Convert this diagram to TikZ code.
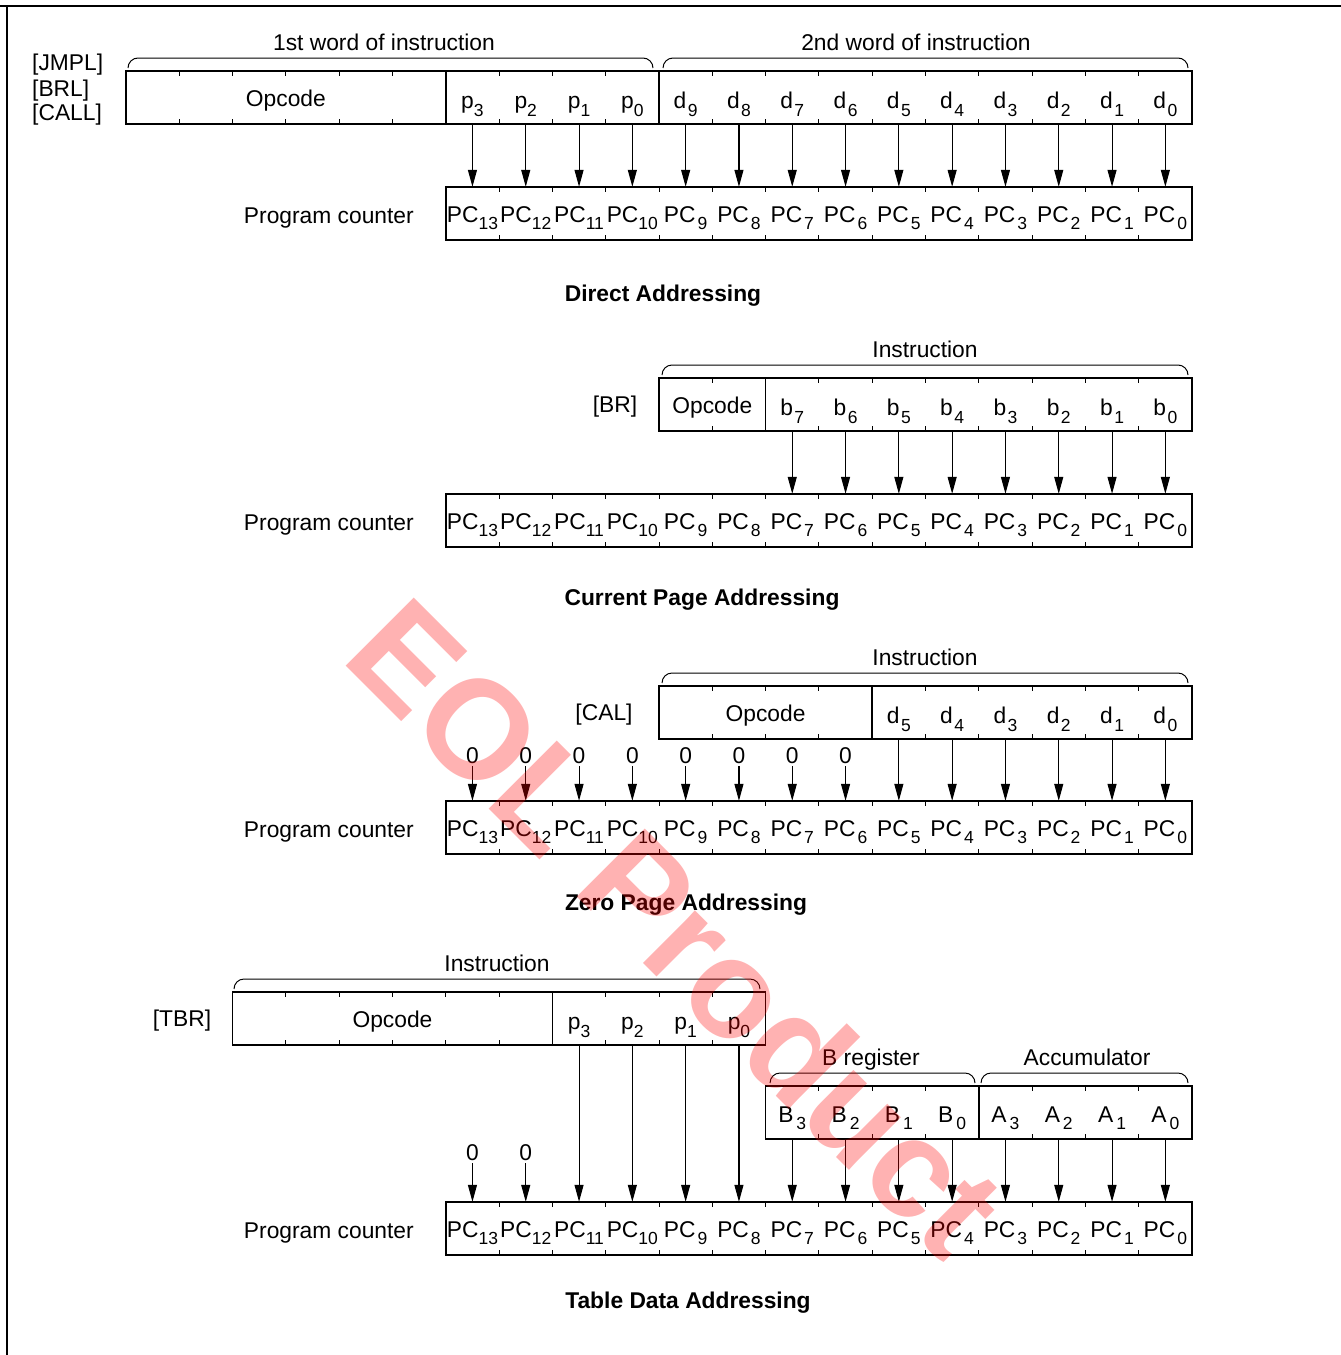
\documentclass[tikz,border=0pt]{standalone}
\usepackage{fontspec}
\setmainfont{Liberation Sans}
\usetikzlibrary{arrows.meta, positioning}
\newcommand{\idx}[1]{\raisebox{-7.5pt}{\fontsize{17.5}{17.5}\selectfont #1}}

\begin{document}
\begin{tikzpicture}[x=1pt, y=-1pt, font=\fontsize{22.8}{27}\selectfont,
    >={Triangle[length=17pt, width=9pt]},
    reg/.style={line width=1.5pt},
    tck/.style={line width=1pt},
    brc/.style={line width=1pt, rounded corners=10pt},
    arr/.style={->, line width=1.1pt},
    cell/.style={minimum width=53.3pt, minimum height=53pt, inner sep=0pt, text height=19pt, text depth=0pt},
    pcc/.style={cell, text height=17pt},
    bit/.style={cell, text height=22pt},
    opc/.style={cell, text height=17pt, minimum width=#1},
    zero/.style={inner sep=2pt},
    lbl/.style={anchor=base, inner sep=0pt},
    ttl/.style={anchor=base, inner sep=0pt, font=\fontsize{22.8}{27}\selectfont\bfseries},
    wmark/.style={rotate=-45, text=red, text opacity=0.3, font=\fontsize{140}{140}\selectfont\bfseries}]
    \useasboundingbox (0,0) rectangle (1341,1355);
    \draw[reg] (0,6) -- (1341,6) (7,6) -- (7,1355);

    \foreach \cl/\cr/\ty in {0/20/71, 6/20/187, 10/20/378, 6/20/494, 10/20/686, 6/20/801, 2/12/992, 12/20/1086, 6/20/1202}{
        \draw[reg] ({126+\cl*53.3},\ty) rectangle ({126+\cr*53.3},{\ty+53});
        \foreach \k in {\cl,...,\cr}
            \draw[tck] ({126+\k*53.3},\ty) -- ++(0,5) ({126+\k*53.3},{\ty+53}) -- ++(0,-5);
    }
    \foreach \cc/\ty in {6/71, 10/71, 12/378, 14/686, 8/992, 16/1086}
        \draw[reg] ({126+\cc*53.3},\ty) -- ++(0,53);
    \foreach \bl/\br/\ty in {128/653/71, 663/1188/71, 662/1188/378, 662/1188/686, 234/760/992, 770/975/1086, 981/1188/1086}
        \draw[brc] (\bl,{\ty-3}) -- (\bl,{\ty-13}) -- (\br,{\ty-13}) -- (\br,{\ty-3});

    \node[lbl] (w1) at (384,50) {1st word of instruction};
    \node[lbl] (w2) at (916,50) {2nd word of instruction};
    \node[lbl] (ib) at (925,357) {Instruction};
    \node[lbl] (ic) at (925,665) {Instruction};
    \node[lbl] (id) at (497,971) {Instruction};
    \node[lbl] (breg) at (871,1065) {B register};
    \node[lbl] (acc) at (1087,1065) {Accumulator};

    \node[lbl, anchor=base west] (jmpl) at (32,70) {[JMPL]};
    \node[lbl, anchor=base west] (brl) at (32,96) {[BRL]};
    \node[lbl, anchor=base west] (call) at (32,120) {[CALL]};
    \node[lbl] (br) at (615,412) {[BR]};
    \node[lbl] (cal) at (604,720) {[CAL]};
    \node[lbl] (tbr) at (182,1026) {[TBR]};

    \node[ttl] (t1) at (663,301) {Direct Addressing};
    \node[ttl] (t2) at (702,605) {Current Page Addressing};
    \node[ttl] (t3) at (686,910) {Zero Page Addressing};
    \node[ttl] (t4) at (688,1308) {Table Data Addressing};

    \foreach \s/\ty in {a/187, b/494, c/801, d/1202}{
        \foreach \i in {0,...,13}
            \node[pcc] (\s-pc\i) at ({126+(19-\i+0.5)*53.3},{\ty+26.5}) {PC\ifnum\i<10\kern2pt\fi\idx{\i}};
        \node[lbl, anchor=base east] (\s-prog) at (414,{\ty+36}) {Program counter};
    }

    \node[opc=319.8pt] (a-op) at ({126+3*53.3},97.5) {Opcode};
    \foreach \i [evaluate=\i as \j using int(10+\i)] in {0,...,3}{
        \node[bit] (a-p\i) at ({126+(9-\i+0.5)*53.3},97.5) {p\idx{\i}};
        \draw[arr] (a-p\i.south) -- (a-pc\j.north);
    }
    \foreach \i in {0,...,9}{
        \node[bit] (a-d\i) at ({126+(19-\i+0.5)*53.3},97.5) {d\kern1.5pt\idx{\i}};
        \draw[arr] (a-d\i.south) -- (a-pc\i.north);
    }

    \node[opc=106.6pt] (b-op) at ({126+11*53.3},404.5) {Opcode};
    \foreach \i in {0,...,7}{
        \node[bit] (b-b\i) at ({126+(19-\i+0.5)*53.3},404.5) {b\kern1.5pt\idx{\i}};
        \draw[arr] (b-b\i.south) -- (b-pc\i.north);
    }

    \node[opc=213.2pt] (c-op) at ({126+12*53.3},712.5) {Opcode};
    \foreach \i in {0,...,5}{
        \node[bit] (c-d\i) at ({126+(19-\i+0.5)*53.3},712.5) {d\kern1.5pt\idx{\i}};
        \draw[arr] (c-d\i.south) -- (c-pc\i.north);
    }
    \foreach \i in {6,...,13}{
        \node[zero] (c-z\i) at ({126+(19-\i+0.5)*53.3},756) {0};
        \draw[arr] (c-z\i.south) -- (c-pc\i.north);
    }

    \node[opc=319.8pt] (d-op) at ({126+5*53.3},1018.5) {Opcode};
    \foreach \i [evaluate=\i as \j using int(8+\i)] in {0,...,3}{
        \node[bit] (d-p\i) at ({126+(11-\i+0.5)*53.3},1018.5) {p\idx{\i}};
        \draw[arr] (d-p\i.south) -- (d-pc\j.north);
    }
    \foreach \i [evaluate=\i as \j using int(4+\i)] in {0,...,3}{
        \node[cell] (d-b\i) at ({126+(15-\i+0.5)*53.3},1112.5) {B\kern3pt\idx{\i}};
        \draw[arr] (d-b\i.south) -- (d-pc\j.north);
        \node[cell] (d-a\i) at ({126+(19-\i+0.5)*53.3},1112.5) {A\kern3pt\idx{\i}};
        \draw[arr] (d-a\i.south) -- (d-pc\i.north);
    }
    \foreach \i in {12,13}{
        \node[zero] (d-z\i) at ({126+(19-\i+0.5)*53.3},1153) {0};
        \draw[arr] (d-z\i.south) -- (d-pc\i.north);
    }

    \node[wmark] (eol) at (677,927) {EOL Product};
\end{tikzpicture}
\end{document}
